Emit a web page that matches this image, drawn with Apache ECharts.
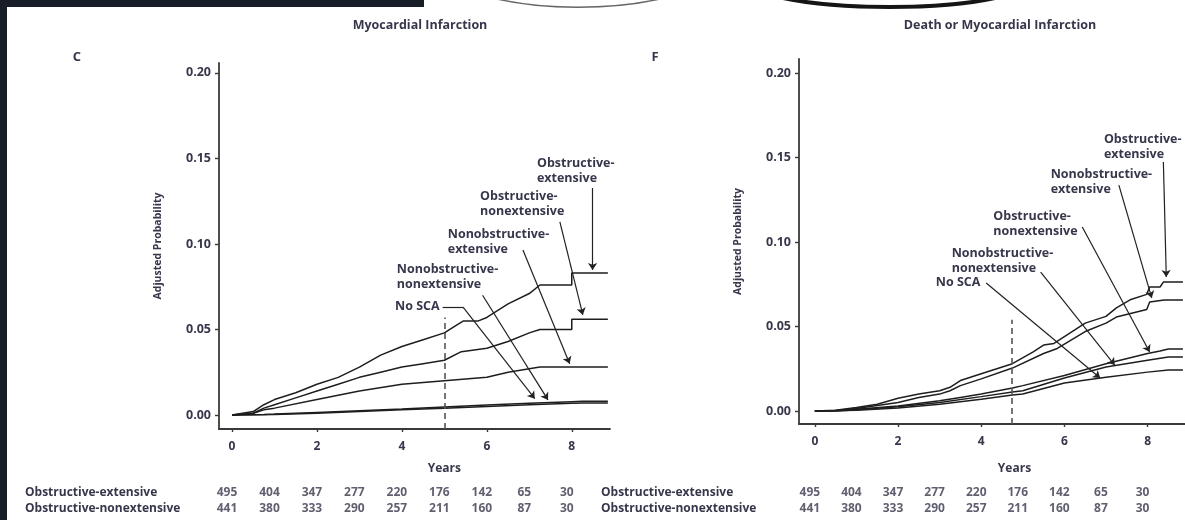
<!doctype html>
<html lang="en">
<head>
<meta charset="UTF-8" />
<title>Myocardial Infarction</title>
<script src="https://cdn.jsdelivr.net/npm/echarts@6/dist/echarts.min.js"></script>
<style>
  html, body { margin: 0; padding: 0; background: #fff; }
  #chart { width: 1185px; height: 520px; }
</style>
</head>
<body>
<div id="chart"></div>
<script>
// curves as [years, adjusted probability] knots

// panel C: myocardial infarction
const miObsExt = [[0, 0], [0.5, 0.002], [0.75, 0.006], [1, 0.009], [1.5, 0.013], [2, 0.018], [2.5, 0.022], [3, 0.028],
  [3.5, 0.035], [4, 0.040], [4.5, 0.044], [5, 0.048], [5.25, 0.052], [5.45, 0.055], [5.8, 0.055], [6, 0.057],
  [6.5, 0.065], [7, 0.071], [7.25, 0.076], [8, 0.076], [8, 0.083], [8.85, 0.083]];
const miObsNonext = [[0, 0], [0.5, 0.001], [0.75, 0.004], [1, 0.006], [1.5, 0.010], [2, 0.014], [2.5, 0.018], [3, 0.022],
  [3.5, 0.025], [4, 0.028], [4.5, 0.030], [5, 0.032], [5.4, 0.037], [6, 0.039], [6.5, 0.043], [7, 0.048],
  [7.25, 0.050], [8, 0.050], [8, 0.056], [8.85, 0.056]];
const miNonobsExt = [[0, 0], [0.5, 0.001], [0.75, 0.003], [1, 0.004], [2, 0.009], [3, 0.014], [4, 0.018], [5, 0.020],
  [6, 0.022], [6.5, 0.025], [7, 0.027], [7.25, 0.028], [8.85, 0.028]];
const miNonobsNonext = [[0, 0], [0.75, 0.0003], [1, 0.0005], [2, 0.0015], [3, 0.0025], [4, 0.0035], [5, 0.0047],
  [6, 0.0058], [7, 0.0068], [8, 0.0078], [8.25, 0.008], [8.85, 0.008]];
const miNoSca = [[0, 0], [1, 0.0003], [2, 0.001], [3, 0.002], [4, 0.003], [5, 0.004], [6, 0.005], [7, 0.006],
  [8, 0.0068], [8.25, 0.007], [8.85, 0.007]];

// panel F: death or myocardial infarction
const dmObsExt = [[0, 0], [0.5, 0.0005], [1, 0.002], [1.5, 0.004], [2, 0.0075], [2.5, 0.010], [3, 0.012], [3.25, 0.014],
  [3.5, 0.018], [4, 0.022], [4.75, 0.028], [5.25, 0.035], [5.5, 0.039], [5.75, 0.040], [6, 0.044], [6.5, 0.052],
  [7, 0.056], [7.25, 0.061], [7.6, 0.066], [7.98, 0.069], [8.05, 0.0734], [8.3, 0.0734], [8.38, 0.0763], [8.85, 0.0763]];
const dmNonobsExt = [[0, 0], [0.5, 0.0003], [1, 0.0015], [2, 0.005], [2.5, 0.008], [3, 0.010], [3.25, 0.012], [3.5, 0.015],
  [4, 0.019], [4.75, 0.0254], [5.5, 0.034], [5.83, 0.037], [6.5, 0.047], [7, 0.052], [7.25, 0.0556], [7.98, 0.060],
  [8.05, 0.0645], [8.4, 0.0657], [8.85, 0.0657]];
const dmObsNonext = [[0, 0], [0.5, 0], [1, 0.001], [2, 0.003], [3, 0.006], [3.5, 0.008], [4, 0.010], [4.75, 0.0136],
  [5, 0.015], [6, 0.021], [7, 0.028], [8, 0.034], [8.3, 0.0355], [8.5, 0.0367], [8.85, 0.0367]];
const dmNonobsNonext = [[0, 0], [0.75, 0.0003], [1, 0.0007], [2, 0.0025], [3, 0.005], [4, 0.0085], [4.75, 0.0112],
  [5, 0.012], [6, 0.0195], [7, 0.026], [8, 0.030], [8.5, 0.032], [8.85, 0.032]];
const dmNoSca = [[0, 0], [1, 0.0005], [2, 0.0018], [3, 0.004], [4, 0.007], [4.75, 0.0095], [5, 0.010], [6, 0.0166],
  [7, 0.020], [8, 0.023], [8.5, 0.0243], [8.85, 0.0243]];

// ticks
const xTicks = [0, 2, 4, 6, 8];
const yTicks = [0, 0.05, 0.10, 0.15, 0.20];

// numbers at risk
const riskYears = [0, 1, 2, 3, 4, 5, 6, 7, 8];
const riskRows = ['Obstructive-extensive', 'Obstructive-nonextensive'];
const riskObsExt = [495, 404, 347, 277, 220, 176, 142, 65, 30];
const riskObsNonext = [441, 380, 333, 290, 257, 211, 160, 87, 30];

const FONT = '"Open Sans", "Noto Sans", sans-serif';
const INK = '#37374c';
const LINE = '#1e1e1e';
const AXIS = '#3a3a3a';

const chart = echarts.init(document.getElementById('chart'));

const curve = (name, pts, gi) => ({
  name: name,
  type: 'line',
  xAxisIndex: gi,
  yAxisIndex: gi,
  symbol: 'none',
  silent: true,
  lineStyle: { color: LINE, width: 1.5 },
  data: pts,
});

const leader = (a, b, arrow) => [
  { coord: a, symbol: 'none' },
  { coord: b, symbol: arrow ? 'arrow' : 'none' },
];

const dashed = (t, top, bottom) => [
  { coord: [t, bottom], symbol: 'none', lineStyle: { type: [6, 4], width: 1.6, color: '#555' } },
  { coord: [t, top], symbol: 'none' },
];

const annot = (items) => ({
  silent: true,
  animation: false,
  symbol: ['none', 'arrow'],
  symbolSize: 7,
  label: { show: false },
  lineStyle: { color: '#222', width: 1.2, type: 'solid' },
  data: items,
});

const textStyle = (size) => ({ fontSize: size, fontWeight: 'bold', color: INK, fontFamily: FONT });

const xAxisFor = (gi, min) => ({
  type: 'value',
  gridIndex: gi,
  min: min,
  max: 8.9,
  axisLine: { show: true, onZero: false, lineStyle: { color: AXIS, width: 1.8 } },
  axisTick: { show: true, customValues: xTicks, length: 3, lineStyle: { color: AXIS, width: 1.4 } },
  axisLabel: Object.assign({ customValues: xTicks, margin: 12 }, textStyle(12)),
  splitLine: { show: false },
});

const yAxisFor = (gi, min, max) => ({
  type: 'value',
  gridIndex: gi,
  min: min,
  max: max,
  name: 'Adjusted Probability',
  nameLocation: 'middle',
  nameGap: 55,
  nameTextStyle: textStyle(10.5),
  axisLine: { show: true, onZero: false, lineStyle: { color: AXIS, width: 1.8 } },
  axisTick: { show: true, customValues: yTicks, length: 4, lineStyle: { color: AXIS, width: 1.4 } },
  axisLabel: Object.assign({ customValues: yTicks, margin: 8, formatter: (v) => v.toFixed(2) }, textStyle(12.5)),
  splitLine: { show: false },
});

const riskX = (gi, min) => ({ type: 'value', gridIndex: gi, min: min, max: 8.9, show: false });
const riskY = (gi, margin) => ({
  type: 'category',
  gridIndex: gi,
  data: riskRows,
  inverse: true,
  axisLine: { show: false },
  axisTick: { show: false },
  axisLabel: Object.assign({ align: 'left', margin: margin }, textStyle(12)),
});
const riskSeries = (gi) => ({
  type: 'scatter',
  xAxisIndex: gi,
  yAxisIndex: gi,
  symbolSize: 1,
  silent: true,
  itemStyle: { color: 'rgba(0,0,0,0)' },
  label: Object.assign({ show: true, position: 'inside', offset: [-5, 0], formatter: (p) => p.value[2] }, textStyle(12)),
  data: riskYears.map((t, i) => [t, riskRows[0], riskObsExt[i]])
    .concat(riskYears.map((t, i) => [t, riskRows[1], riskObsNonext[i]])),
});

const cSeries = [
  curve('Obstructive-extensive', miObsExt, 0),
  curve('Obstructive-nonextensive', miObsNonext, 0),
  curve('Nonobstructive-extensive', miNonobsExt, 0),
  curve('Nonobstructive-nonextensive', miNonobsNonext, 0),
  curve('No SCA', miNoSca, 0),
];
cSeries[0].markLine = annot([
  dashed(5.0, 0.057, -0.0082),
  leader([8.49, 0.1327], [8.49, 0.0848], true),
  leader([7.72, 0.1129], [8.26, 0.0585], true),
  leader([6.85, 0.0965], [7.95, 0.0300], true),
  leader([5.9, 0.070], [7.44, 0.0088], true),
  leader([4.96, 0.063], [5.44, 0.063], false),
  leader([5.44, 0.063], [7.13, 0.0095], true),
]);

const fSeries = [
  curve('Obstructive-extensive', dmObsExt, 1),
  curve('Nonobstructive-extensive', dmNonobsExt, 1),
  curve('Obstructive-nonextensive', dmObsNonext, 1),
  curve('Nonobstructive-nonextensive', dmNonobsNonext, 1),
  curve('No SCA', dmNoSca, 1),
];
fSeries[0].markLine = annot([
  dashed(4.74, 0.054, -0.0077),
  leader([8.38, 0.1473], [8.45, 0.0793], true),
  leader([7.31, 0.1337], [8.10, 0.0669], true),
  leader([6.43, 0.1089], [8.05, 0.0349], true),
  leader([5.43, 0.0822], [7.21, 0.0272], true),
  leader([4.12, 0.0757], [6.86, 0.0195], true),
]);

chart.setOption({
  animation: false,
  backgroundColor: '#fff',
  grid: [
    { left: 219, top: 63, width: 391, height: 366 },
    { left: 799, top: 59, width: 390, height: 365 },
    { left: 219, top: 485, width: 391, height: 32 },
    { left: 799, top: 485, width: 390, height: 32 },
  ],
  xAxis: [xAxisFor(0, -0.306), xAxisFor(1, -0.381), riskX(2, -0.306), riskX(3, -0.381)],
  yAxis: [yAxisFor(0, -0.0082, 0.2058), yAxisFor(1, -0.0077, 0.2083), riskY(2, 194), riskY(3, 198)],
  series: cSeries.concat(fSeries, [riskSeries(2), riskSeries(3)]),
});

// text annotations placed in data space
const cLabels = [
  ['Obstructive-\nextensive', 7.18, 0.1509, 'left'],
  ['Obstructive-\nnonextensive', 5.84, 0.1316, 'left'],
  ['Nonobstructive-\nextensive', 5.08, 0.1094, 'left'],
  ['Nonobstructive-\nnonextensive', 3.88, 0.0889, 'left'],
  ['No SCA', 4.89, 0.0672, 'right'],
];
const fLabels = [
  ['Obstructive-\nextensive', 6.95, 0.1645, 'left'],
  ['Nonobstructive-\nextensive', 5.67, 0.1438, 'left'],
  ['Obstructive-\nnonextensive', 4.29, 0.1189, 'left'],
  ['Nonobstructive-\nnonextensive', 3.29, 0.0970, 'left'],
  ['No SCA', 3.98, 0.0800, 'right'],
];

const textEl = (text, x, y, align, size) => ({
  type: 'text',
  silent: true,
  x: x,
  y: y,
  style: { text: text, fill: INK, fontSize: size || 11, fontWeight: 'bold', fontFamily: FONT,
    align: align || 'left', verticalAlign: 'top', lineHeight: 15 },
});

const graphic = [];
[[cLabels, 0], [fLabels, 1]].forEach(([labels, gi]) => {
  labels.forEach(([text, t, v, align]) => {
    const p = chart.convertToPixel({ xAxisIndex: gi, yAxisIndex: gi }, [t, v]);
    graphic.push(textEl(text, p[0], p[1] - 1, align, 12.5));
  });
});
const yrC = chart.convertToPixel({ xAxisIndex: 0 }, 5.0);
const yrF = chart.convertToPixel({ xAxisIndex: 1 }, 4.8);
graphic.push(textEl('Years', yrC, 461, 'center', 12));
graphic.push(textEl('Years', yrF, 461, 'center', 12));
graphic.push(textEl('Myocardial Infarction', 420, 18, 'center', 12.5));
graphic.push(textEl('Death or Myocardial Infarction', 1000, 18, 'center', 12.5));
graphic.push(textEl('C', 77, 50, 'center', 13));
graphic.push(textEl('F', 655, 50, 'center', 13));
// dark frame and the cut-off rings of the scanned page above
graphic.push({ type: 'rect', silent: true, z: 100, shape: { x: 0, y: 0, width: 7, height: 520 }, style: { fill: '#171e28' } });
graphic.push({ type: 'rect', silent: true, z: 100, shape: { x: 0, y: 0, width: 424, height: 7 }, style: { fill: '#171e28' } });
graphic.push({ type: 'bezierCurve', silent: true, z: 99,
  shape: { x1: 497, y1: -1, cpx1: 545, cpy1: 10, cpx2: 610, cpy2: 10, x2: 660, y2: -1 },
  style: { stroke: '#666', lineWidth: 1.5, fill: null } });
graphic.push({ type: 'bezierCurve', silent: true, z: 99,
  shape: { x1: 783, y1: -2, cpx1: 840, cpy1: 10, cpx2: 940, cpy2: 10, x2: 995, y2: -2 },
  style: { stroke: '#151515', lineWidth: 4, fill: null } });

chart.setOption({ graphic: graphic });
</script>
</body>
</html>
